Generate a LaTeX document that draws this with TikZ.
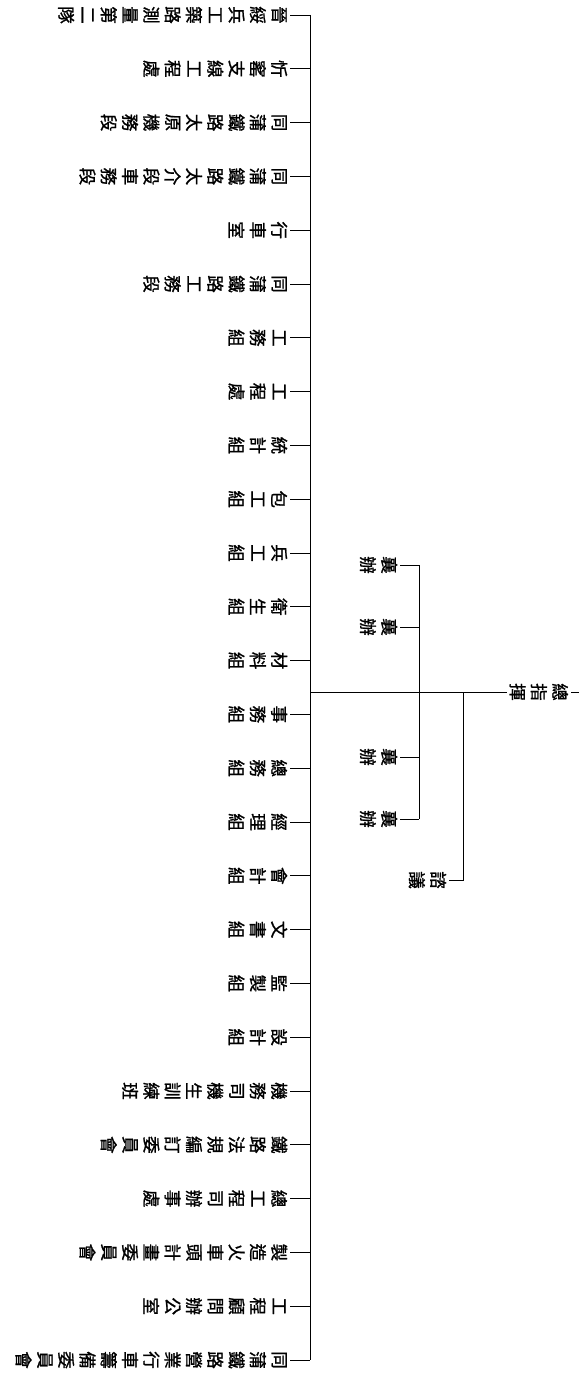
\documentclass[tikz,border=0pt]{standalone}
\usepackage{fontspec}
\newfontfamily\cjk{Noto Sans CJK TC}[FakeBold=1.2]
\makeatletter
\newcommand\vstk[1]{\vbox{\offinterlineskip\@tfor\vch:=#1\do{\vbox to 21.3pt{\vss\hbox to 18pt{\hss\vch\hss}\vss}}}}
\makeatother
\begin{document}
\begin{tikzpicture}[x=1pt,y=-1pt,
  lab/.style={inner sep=0pt, rotate=-90, anchor=north, font=\cjk\fontsize{17.5}{17.5}\selectfont},
  ln/.style={line width=0.9pt, black}]
\useasboundingbox[fill=white] (0,0) rectangle (581,1380);
\coordinate (trunk) at (310,0);
\coordinate (xbus) at (419,0);
\coordinate (mbus) at (463,0);
\node[lab] (L1)  at (290,15.0)   {\vstk{晉綏兵工築路測量第二隊}};
\node[lab] (L2)  at (290,68.8)   {\vstk{忻窰支線工程處}};
\node[lab] (L3)  at (290,122.6)  {\vstk{同蒲鐵路太原機務段}};
\node[lab] (L4)  at (290,176.4)  {\vstk{同蒲鐵路太介段車務段}};
\node[lab] (L5)  at (290,230.2)  {\vstk{行車室}};
\node[lab] (L6)  at (290,284.0)  {\vstk{同蒲鐵路工務段}};
\node[lab] (L7)  at (290,337.8)  {\vstk{工務組}};
\node[lab] (L8)  at (290,391.6)  {\vstk{工程處}};
\node[lab] (L9)  at (290,445.4)  {\vstk{統計組}};
\node[lab] (L10) at (290,499.2)  {\vstk{包工組}};
\node[lab] (L11) at (290,553.0)  {\vstk{兵工組}};
\node[lab] (L12) at (290,606.8)  {\vstk{衛生組}};
\node[lab] (L13) at (290,660.6)  {\vstk{材料組}};
\node[lab] (L14) at (290,714.4)  {\vstk{事務組}};
\node[lab] (L15) at (290,768.2)  {\vstk{總務組}};
\node[lab] (L16) at (290,822.0)  {\vstk{經理組}};
\node[lab] (L17) at (290,875.8)  {\vstk{會計組}};
\node[lab] (L18) at (290,929.6)  {\vstk{文書組}};
\node[lab] (L19) at (290,983.4)  {\vstk{監製組}};
\node[lab] (L20) at (290,1037.2) {\vstk{設計組}};
\node[lab] (L21) at (290,1091.0) {\vstk{機務司機生訓練班}};
\node[lab] (L22) at (290,1144.8) {\vstk{鐵路法規編訂委員會}};
\node[lab] (L23) at (290,1198.6) {\vstk{總工程司辦事處}};
\node[lab] (L24) at (290,1252.4) {\vstk{製造火車頭計畫委員會}};
\node[lab] (L25) at (290,1306.2) {\vstk{工程顧問辦公室}};
\node[lab] (L26) at (290,1360.0) {\vstk{同蒲鐵路營業行車籌備委員會}};
\foreach \i in {1,...,26} \draw[ln] (L\i.north) -- (L\i.north -| trunk);
\draw[ln] (L1.north -| trunk) -- (L26.north -| trunk);
% root
\node[lab] (root) at (571,692) {\vstk{總指揮}};
\coordinate (rtick) at (579,692);
\draw[ln] (root.north) -- (rtick);
\draw[ln] (root.south) -- (root.south -| trunk);
% assistants
\node[lab] (X1) at (400,565) {\vstk{襄辦}};
\node[lab] (X2) at (400,627) {\vstk{襄辦}};
\node[lab] (X3) at (400,757) {\vstk{襄辦}};
\node[lab] (X4) at (400,819) {\vstk{襄辦}};
\foreach \i in {1,...,4} \draw[ln] (X\i.north) -- (X\i.north -| xbus);
\draw[ln] (X1.north -| xbus) -- (X4.north -| xbus);
% advisers
\node[lab] (M) at (449,880) {\vstk{諮議}};
\draw[ln] (root.south -| mbus) -- (M.north -| mbus) -- (M.north);
\end{tikzpicture}
\end{document}
